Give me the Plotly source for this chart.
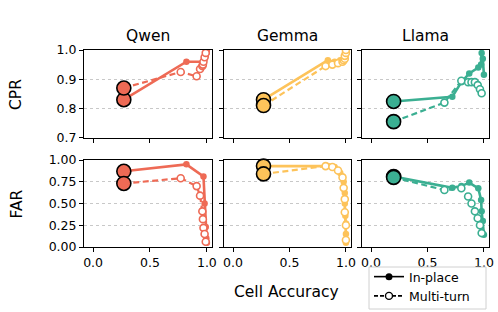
import plotly.graph_objects as go
from plotly.subplots import make_subplots

models = ["Qwen", "Gemma", "Llama"]
colors = {"Qwen": "#EE6A55", "Gemma": "#FDC35A", "Llama": "#3BAF92"}
row_labels = ["CPR", "FAR"]
x_ticks = [0.0, 0.5, 1.0]
x_tick_labels = ["0.0", "0.5", "1.0"]
cpr_ticks = [0.7, 0.8, 0.9, 1.0]
cpr_tick_labels = ["0.7", "0.8", "0.9", "1.0"]
far_ticks = [0.0, 0.25, 0.5, 0.75, 1.0]
far_tick_labels = ["0.00", "0.25", "0.50", "0.75", "1.00"]

# In-place series
qwen_inplace_acc = [0.27, 0.82, 0.97, 0.98, 0.99, 0.995, 1.0]
qwen_inplace_cpr = [0.83, 0.96, 0.96, 0.97, 0.98, 0.99, 1.0]
qwen_inplace_far = [0.87, 0.95, 0.81, 0.50, 0.23, 0.10, 0.05]

gemma_inplace_acc = [0.27, 0.84, 0.90, 0.95, 0.98, 0.99, 0.99, 0.995, 1.0, 1.0, 1.0]
gemma_inplace_cpr = [0.83, 0.965, 0.96, 0.965, 0.97, 0.975, 0.98, 0.985, 0.99, 0.995, 1.0]
gemma_inplace_far = [0.93, 0.93, 0.92, 0.85, 0.75, 0.62, 0.50, 0.36, 0.27, 0.15, 0.05]

llama_inplace_acc = [0.20, 0.72, 0.80, 0.87, 0.95, 0.975, 0.98, 0.99, 1.0]
llama_inplace_cpr = [0.824, 0.84, 0.89, 0.92, 0.94, 0.95, 0.99, 0.97, 0.915]
llama_inplace_far = [0.81, 0.68, 0.70, 0.74, 0.675, 0.54, 0.41, 0.30, 0.14]

# Multi-turn series
qwen_multi_acc = [0.27, 0.77, 0.91, 0.94, 0.96, 0.965, 0.97, 0.98, 0.99]
qwen_multi_cpr = [0.87, 0.925, 0.91, 0.935, 0.945, 0.95, 0.96, 0.975, 0.99]
qwen_multi_far = [0.73, 0.79, 0.70, 0.59, 0.41, 0.32, 0.22, 0.15, 0.06]

gemma_multi_acc = [0.27, 0.82, 0.88, 0.93, 0.97, 0.98, 0.99, 0.99, 1.0, 1.0]
gemma_multi_cpr = [0.81, 0.945, 0.95, 0.955, 0.96, 0.965, 0.97, 0.98, 0.99, 1.0]
gemma_multi_far = [0.84, 0.93, 0.92, 0.88, 0.80, 0.68, 0.55, 0.40, 0.25, 0.08]

llama_multi_acc = [0.20, 0.65, 0.80, 0.86, 0.89, 0.92, 0.945, 0.965, 0.98]
llama_multi_cpr = [0.755, 0.82, 0.895, 0.89, 0.89, 0.89, 0.88, 0.866, 0.852]
llama_multi_far = [0.80, 0.655, 0.675, 0.58, 0.50, 0.41, 0.33, 0.25, 0.16]

data = {
    "Qwen": {"inplace": (qwen_inplace_acc, qwen_inplace_cpr, qwen_inplace_far),
             "multi": (qwen_multi_acc, qwen_multi_cpr, qwen_multi_far)},
    "Gemma": {"inplace": (gemma_inplace_acc, gemma_inplace_cpr, gemma_inplace_far),
              "multi": (gemma_multi_acc, gemma_multi_cpr, gemma_multi_far)},
    "Llama": {"inplace": (llama_inplace_acc, llama_inplace_cpr, llama_inplace_far),
              "multi": (llama_multi_acc, llama_multi_cpr, llama_multi_far)},
}

W, H = 498, 312
FONT = "DejaVu Sans"

fig = make_subplots(rows=2, cols=3)

col_px = [(84, 212), (224, 351), (362, 489)]
row_px = [(50, 138), (160, 247)]

for ci, m in enumerate(models):
    c = colors[m]
    for ri in range(2):
        r = ri + 1
        col = ci + 1
        acc_i, cpr_i, far_i = data[m]["inplace"]
        acc_m, cpr_m, far_m = data[m]["multi"]
        yi = cpr_i if ri == 0 else far_i
        ym = cpr_m if ri == 0 else far_m
        # In-place
        fig.add_trace(go.Scatter(x=acc_i, y=yi, mode="lines+markers",
                                 line=dict(color=c, width=2.6),
                                 marker=dict(color=c, size=6.5, symbol="circle"),
                                 showlegend=False, hoverinfo="skip"), row=r, col=col)
        # Multi-turn
        fig.add_trace(go.Scatter(x=acc_m, y=ym, mode="lines+markers",
                                 line=dict(color=c, width=2.2, dash="6px,3.5px"),
                                 marker=dict(color="white", size=7, symbol="circle",
                                             line=dict(color=c, width=1.6)),
                                 showlegend=False, hoverinfo="skip"), row=r, col=col)
        # big starting markers
        fig.add_trace(go.Scatter(x=[acc_i[0], acc_m[0]], y=[yi[0], ym[0]], mode="markers",
                                 marker=dict(color=c, size=14,
                                             line=dict(color="black", width=1.6)),
                                 showlegend=False, hoverinfo="skip", cliponaxis=False),
                      row=r, col=col)

# legend entries
fig.add_trace(go.Scatter(x=[None], y=[None], mode="lines+markers", name="In-place",
                         line=dict(color="black", width=1.6),
                         marker=dict(color="black", size=7)), row=2, col=3)
fig.add_trace(go.Scatter(x=[None], y=[None], mode="lines+markers", name="Multi-turn",
                         line=dict(color="black", width=1.6, dash="4px,2px"),
                         marker=dict(color="white", size=7, line=dict(color="black", width=1.4))),
              row=2, col=3)

axis_common = dict(showline=True, linecolor="black", linewidth=1, mirror=True,
                   ticks="outside", ticklen=4, tickwidth=1, tickcolor="black",
                   zeroline=False, automargin=False,
                   tickfont=dict(family=FONT, size=12.5, color="black"))

for ri in range(2):
    for ci in range(3):
        idx = ri * 3 + ci + 1
        xname = "xaxis" if idx == 1 else f"xaxis{idx}"
        yname = "yaxis" if idx == 1 else f"yaxis{idx}"
        x0, x1 = col_px[ci]
        y0, y1 = row_px[ri]
        fig.layout[xname].update(domain=[x0 / W, x1 / W], range=[-0.08, 1.045],
                                 tickvals=x_ticks, ticktext=x_tick_labels,
                                 showticklabels=(ri == 1), showgrid=False, **axis_common)
        if ri == 0:
            yv, yt, yr = cpr_ticks, cpr_tick_labels, [0.699, 1.0]
        else:
            yv, yt, yr = far_ticks, far_tick_labels, [0.0, 1.0]
        fig.layout[yname].update(domain=[1 - y1 / H, 1 - y0 / H], range=yr,
                                 tickvals=yv, ticktext=yt, showticklabels=(ci == 0),
                                 showgrid=True, gridcolor="#c8c8c8", gridwidth=0.8,
                                 griddash="dot", **axis_common)

annotations = []
for ci, m in enumerate(models):
    x0, x1 = col_px[ci]
    annotations.append(dict(text=m, x=(x0 + x1) / 2 / W, y=1 - 36 / H, xref="paper", yref="paper",
                            showarrow=False, xanchor="center", yanchor="middle",
                            font=dict(family=FONT, size=15.5, color="black")))
for ri, lab in enumerate(row_labels):
    y0, y1 = row_px[ri]
    annotations.append(dict(text=lab, x=16 / W, y=1 - (y0 + y1) / 2 / H, xref="paper", yref="paper",
                            showarrow=False, xanchor="center", yanchor="middle", textangle=-90,
                            font=dict(family=FONT, size=15.5, color="black")))
annotations.append(dict(text="Cell Accuracy", x=286 / W, y=1 - 292 / H, xref="paper", yref="paper",
                        showarrow=False, xanchor="center", yanchor="middle",
                        font=dict(family=FONT, size=15.5, color="black")))

# legend frame (matplotlib-style box)
legend_box = dict(type="rect", xref="paper", yref="paper",
                  x0=369 / W, x1=486 / W, y0=1 - 309 / H, y1=1 - 267 / H,
                  fillcolor="white", line=dict(color="#d0d0d0", width=1), layer="above")

fig.update_layout(
    width=W, height=H, margin=dict(l=0, r=0, t=0, b=0, autoexpand=False),
    paper_bgcolor="white", plot_bgcolor="white",
    annotations=annotations,
    shapes=[legend_box],
    showlegend=True,
    legend=dict(x=369 / W, y=1 / H, xanchor="left", yanchor="bottom",
                bgcolor="rgba(0,0,0,0)", borderwidth=0,
                font=dict(family=FONT, size=12.5, color="black"),
                itemwidth=30, tracegroupgap=0),
)

fig.write_html("out.html", config={"displayModeBar": False},
               post_script="document.body.style.margin='0';document.body.style.overflow='hidden';")
